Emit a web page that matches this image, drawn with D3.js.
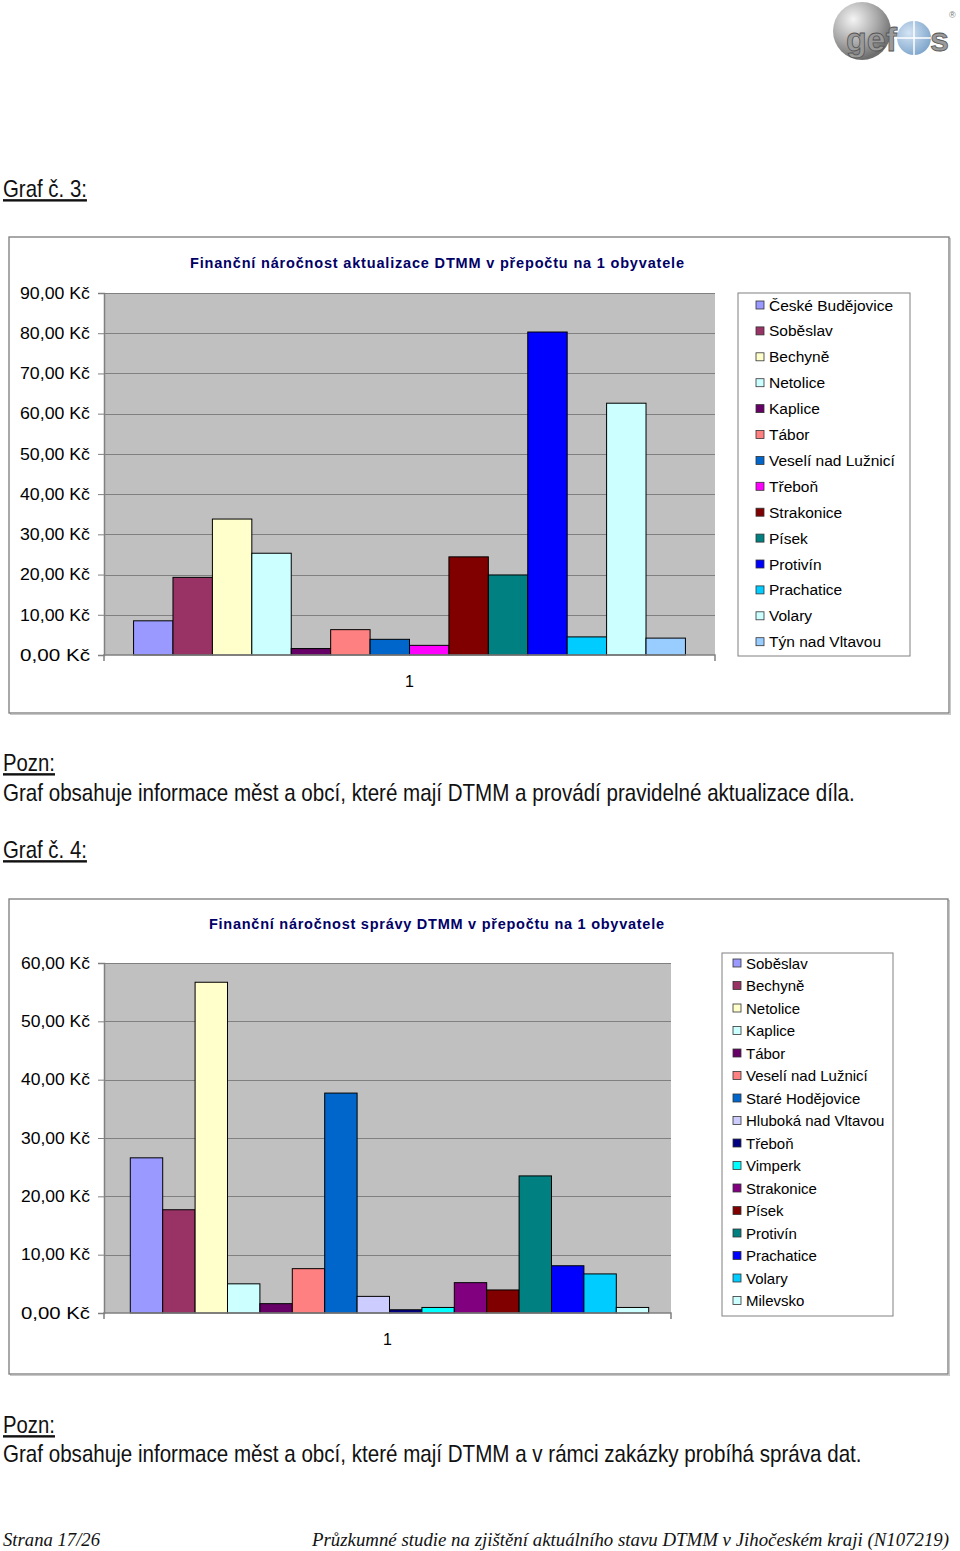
<!DOCTYPE html>
<html><head><meta charset="utf-8">
<script src="https://cdn.jsdelivr.net/npm/d3@7"></script>
<style>html,body{margin:0;padding:0;background:#fff;}svg{display:block;}</style>
</head><body>
<script>
// ---- DATA ----
const chart1Title = "Finanční náročnost aktualizace DTMM v přepočtu na 1 obyvatele";
const chart1Series = ["České Budějovice","Soběslav","Bechyně","Netolice","Kaplice","Tábor","Veselí nad Lužnicí","Třeboň","Strakonice","Písek","Protivín","Prachatice","Volary","Týn nad Vltavou"];
const chart1Values = [8.5,19.3,33.8,25.3,1.6,6.3,3.9,2.4,24.4,19.9,80.3,4.5,62.6,4.2];
const chart1Colors = ["#9999FF","#993366","#FFFFCC","#CCFFFF","#660066","#FF8080","#0066CC","#FF00FF","#800000","#008080","#0000FF","#00CCFF","#CCFFFF","#99CCFF"];
const chart1Ticks = [0,10,20,30,40,50,60,70,80,90];

const chart2Title = "Finanční náročnost správy DTMM v přepočtu na 1 obyvatele";
const chart2Series = ["Soběslav","Bechyně","Netolice","Kaplice","Tábor","Veselí nad Lužnicí","Staré Hodějovice","Hluboká nad Vltavou","Třeboň","Vimperk","Strakonice","Písek","Protivín","Prachatice","Volary","Milevsko"];
const chart2Values = [26.6,17.7,56.7,5.0,1.6,7.6,37.7,2.85,0.55,0.95,5.2,3.95,23.5,8.1,6.7,0.95];
const chart2Colors = ["#9999FF","#993366","#FFFFCC","#CCFFFF","#660066","#FF8080","#0066CC","#CCCCFF","#000080","#00FFFF","#800080","#800000","#008080","#0000FF","#00CCFF","#CCFFFF"];
const chart2Ticks = [0,10,20,30,40,50,60];

const categoryLabel = ["1"];

// ---- PAGE ----
const svg = d3.select("body").append("svg").attr("width",960).attr("height",1551);
const sans = "Arial,'Liberation Sans',sans-serif";

// Logo
const defs = svg.append("defs");
const g1 = defs.append("radialGradient").attr("id","sph").attr("cx","35%").attr("cy","30%").attr("r","70%");
g1.append("stop").attr("offset","0%").attr("stop-color","#f4f4f4");
g1.append("stop").attr("offset","60%").attr("stop-color","#a8a8a8");
g1.append("stop").attr("offset","100%").attr("stop-color","#6e6e6e");
const g2 = defs.append("radialGradient").attr("id","bsph").attr("cx","35%").attr("cy","35%").attr("r","70%");
g2.append("stop").attr("offset","0%").attr("stop-color","#d4e4f4");
g2.append("stop").attr("offset","100%").attr("stop-color","#7fa6cc");
const logo = svg.append("g");
logo.append("circle").attr("cx",862).attr("cy",31).attr("r",29).attr("fill","url(#sph)");
logo.append("text").attr("x",846).attr("y",51).attr("font-family",sans).attr("font-weight","bold")
  .attr("font-size",34).attr("fill","#9a9a9a").attr("stroke","#555").attr("stroke-width",0.8).text("gef");
logo.append("circle").attr("cx",914).attr("cy",38).attr("r",17).attr("fill","url(#bsph)");
logo.append("line").attr("x1",914).attr("x2",914).attr("y1",16).attr("y2",62).attr("stroke","#fff").attr("stroke-width",1.5);
logo.append("line").attr("x1",894).attr("x2",934).attr("y1",38).attr("y2",38).attr("stroke","#fff").attr("stroke-width",1.5);
logo.append("text").attr("x",930).attr("y",51).attr("font-family",sans).attr("font-weight","bold")
  .attr("font-size",34).attr("fill","#9a9a9a").attr("stroke","#555").attr("stroke-width",0.8).text("s");
logo.append("text").attr("x",949).attr("y",18).attr("font-family",sans).attr("font-size",9).attr("fill","#777").text("®");

// narrow text via horizontal scaling of Liberation Sans
function narrowText(x, y, txt, width, underline){
  const g = svg.append("g");
  const t = g.append("text").attr("x",0).attr("y",0).attr("font-family","'Liberation Sans',Arial,sans-serif")
    .attr("font-size",24).attr("fill","#111").text(txt);
  if(underline) t.attr("text-decoration","underline");
  const len = t.node().getComputedTextLength();
  g.attr("transform",`translate(${x},${y}) scale(${width/len},1)`);
}

narrowText(3,197,"Graf č. 3:",84,true);
narrowText(3,771,"Pozn:",52,true);
narrowText(3,801,"Graf obsahuje informace měst a obcí, které mají DTMM a provádí pravidelné aktualizace díla.",852,false);
narrowText(3,858,"Graf č. 4:",84,true);
narrowText(3,1433,"Pozn:",52,true);
narrowText(3,1462,"Graf obsahuje informace měst a obcí, které mají DTMM a v rámci zakázky probíhá správa dat.",859,false);

// Footer
svg.append("text").attr("x",3).attr("y",1546).attr("font-family","'Liberation Serif','Times New Roman',serif")
  .attr("font-style","italic").attr("font-size",19).attr("fill","#111").attr("textLength",97).attr("lengthAdjust","spacingAndGlyphs").text("Strana 17/26");
svg.append("text").attr("x",312).attr("y",1546).attr("font-family","'Liberation Serif','Times New Roman',serif")
  .attr("font-style","italic").attr("font-size",19).attr("fill","#111").attr("textLength",637).attr("lengthAdjust","spacingAndGlyphs")
  .text("Průzkumné studie na zjištění aktuálního stavu DTMM v Jihočeském kraji (N107219)");

function drawChart(cfg){
  const g = svg.append("g");
  // outer frame
  g.append("rect").attr("x",cfg.box[0]+1.5).attr("y",cfg.box[1]+1.5).attr("width",cfg.box[2]-cfg.box[0]).attr("height",cfg.box[3]-cfg.box[1])
    .attr("fill","none").attr("stroke","#c8c8c8").attr("stroke-width",1);
  g.append("rect").attr("x",cfg.box[0]).attr("y",cfg.box[1]).attr("width",cfg.box[2]-cfg.box[0]).attr("height",cfg.box[3]-cfg.box[1])
    .attr("fill","#fff").attr("stroke","#7a7a7a").attr("stroke-width",1.3);
  // title
  g.append("text").attr("x",cfg.titleX).attr("y",cfg.titleY).attr("font-family",sans).attr("font-weight","bold")
    .attr("font-size",14.5).attr("fill","#000066").attr("textLength",cfg.titleLen).attr("lengthAdjust","spacing").text(cfg.title);

  const [L,R,T,B] = cfg.plot;
  const y = d3.scaleLinear().domain([0,d3.max(cfg.ticks)]).range([B,T]);
  const x0 = d3.scaleBand().domain(categoryLabel).range([L,R]).paddingInner(0).paddingOuter(0);
  const x1 = d3.scaleBand().domain(cfg.series).range([x0("1")+cfg.shift, x0("1")+x0.bandwidth()+cfg.shift]).paddingInner(0).paddingOuter(0.75);

  g.append("rect").attr("x",L).attr("y",T).attr("width",R-L).attr("height",B-T).attr("fill","#C0C0C0");
  // gridlines
  g.append("g").selectAll("line").data(cfg.ticks.filter(d=>d>0)).join("line")
    .attr("x1",L).attr("x2",R).attr("y1",d=>Math.round(y(d))+0.5).attr("y2",d=>Math.round(y(d))+0.5)
    .attr("stroke","#808080").attr("stroke-width",1);
  // y axis
  const yAxis = d3.axisLeft(y).tickValues(cfg.ticks).tickSize(6).tickPadding(8)
    .tickFormat(d=>d3.format(".2f")(d).replace(".",",")+" Kč");
  const ya = g.append("g").attr("transform",`translate(${L},0)`).call(yAxis);
  ya.select(".domain").attr("stroke","#808080").attr("stroke-width",1.5);
  ya.selectAll(".tick line").attr("stroke","#808080");
  ya.selectAll(".tick text").attr("font-family",sans).attr("font-size",cfg.yFont).attr("fill","#000")
    .attr("textLength",cfg.yLabelLen).attr("lengthAdjust","spacingAndGlyphs");
  // bars
  g.append("g").selectAll("rect").data(cfg.values).join("rect")
    .attr("x",(d,i)=>x1(cfg.series[i])).attr("width",x1.bandwidth())
    .attr("y",d=>y(d)).attr("height",d=>B-y(d))
    .attr("fill",(d,i)=>cfg.colors[i]).attr("stroke","#000").attr("stroke-width",1);
  // x axis
  const xAxis = d3.axisBottom(x0).tickSize(0).tickPadding(cfg.catPad);
  const xa = g.append("g").attr("transform",`translate(0,${B})`).call(xAxis);
  xa.select(".domain").attr("stroke","#808080").attr("stroke-width",1.5).attr("d",`M${L},6V0H${R}V6`);
  xa.selectAll(".tick text").attr("font-family",sans).attr("font-size",16).attr("fill","#000");

  // legend
  const [lx,ly,lx2,ly2] = cfg.legBox;
  g.append("rect").attr("x",lx).attr("y",ly).attr("width",lx2-lx).attr("height",ly2-ly)
    .attr("fill","#fff").attr("stroke","#808080").attr("stroke-width",1);
  const leg = g.append("g").selectAll("g").data(cfg.series).join("g")
    .attr("transform",(d,i)=>`translate(${cfg.legX},${cfg.legY0 + i*cfg.legStep})`);
  leg.append("rect").attr("x",0).attr("y",-4).attr("width",8).attr("height",8)
    .attr("fill",(d,i)=>cfg.colors[i]).attr("stroke","#333").attr("stroke-width",0.8);
  leg.append("text").attr("x",13).attr("y",5.5).attr("font-family",sans).attr("font-size",cfg.legFont).attr("fill","#000").text(d=>d);
}

drawChart({
  box:[9,237,949,713], title:chart1Title, titleX:190, titleY:268, titleLen:494,
  plot:[104,715,293,655], ticks:chart1Ticks, series:chart1Series, values:chart1Values, colors:chart1Colors,
  yFont:16.5, yLabelLen:70, catPad:21, shift:0,
  legBox:[738,293,910,656], legX:756, legY0:305, legStep:25.9, legFont:15.5
});
drawChart({
  box:[9,899,948,1374], title:chart2Title, titleX:209, titleY:929, titleLen:455,
  plot:[104,671,963,1313], ticks:chart2Ticks, series:chart2Series, values:chart2Values, colors:chart2Colors,
  yFont:16.5, yLabelLen:69, catPad:21, shift:2,
  legBox:[722,953,893,1316], legX:733, legY0:963, legStep:22.5, legFont:15
});
</script>
</body></html>
